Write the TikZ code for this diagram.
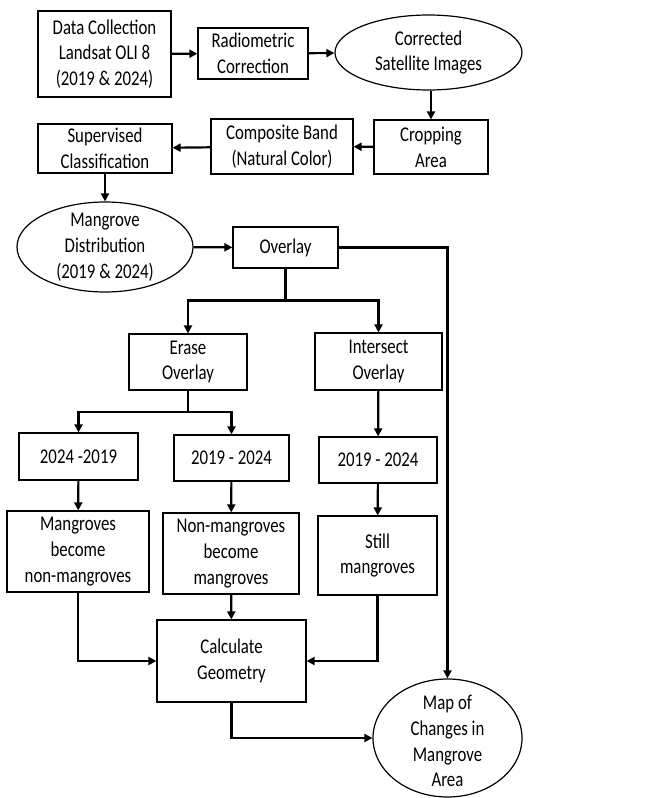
\documentclass[tikz,border=0pt]{standalone}
\usepackage{fontspec}
\setmainfont{Carlito}[FakeStretch=0.8]
\usetikzlibrary{shapes.geometric,arrows.meta}

\begin{document}
\begin{tikzpicture}[x=1pt, y=-1pt,
        box/.style={draw, line width=1.2pt, align=center, inner sep=0pt, font=\fontsize{21}{25.8}\selectfont},
        oval/.style={draw, ellipse, line width=1.2pt, inner sep=0pt},
        lbl/.style={align=center, inner sep=0pt, font=\fontsize{21}{25.8}\selectfont},
        trunk/.style={line width=2.2pt},
        conn/.style={line width=2.2pt, -{Triangle[length=8pt,width=8pt]}}]

        % Page
        \fill[white] (0,0) rectangle (657,798);

        % Preprocessing
        \node[box, minimum width=133pt, minimum height=86pt] (data) at (104.5,54) {Data Collection\\Landsat OLI 8\\(2019 \& 2024)};
        \node[box, minimum width=110pt, minimum height=51pt] (radio) at (253,53.5) {Radiometric\\Correction};
        \node[oval, minimum width=187pt, minimum height=75pt] (corr) at (428.5,52.5) {};
        \node[lbl] (corrtxt) at (corr) {Corrected\\Satellite Images};
        \node[box, minimum width=114pt, minimum height=54pt] (crop) at (431,147) {Cropping\\Area};
        \node[box, minimum width=142pt, minimum height=55pt] (comp) at (282,146.5) {Composite Band\\(Natural Color)};
        \node[box, minimum width=134pt, minimum height=49pt] (sup) at (105,148.5) {Supervised\\Classification};

        % Classification result
        \node[oval, minimum width=176pt, minimum height=90pt] (dist) at (105,247) {};
        \node[lbl] (disttxt) at (dist) {Mangrove\\Distribution\\(2019 \& 2024)};
        \node[box, minimum width=105pt, minimum height=41pt] (overlay) at (285.5,247.5) {Overlay};

        % Overlay branches
        \node[box, minimum width=118pt, minimum height=56pt] (erase) at (188,362) {Erase\\Overlay};
        \node[box, minimum width=127pt, minimum height=57pt] (inter) at (378.5,361.5) {Intersect\\Overlay};

        \node[box, minimum width=119pt, minimum height=47pt] (yrA) at (78.5,456.5) {2024 -2019};
        \node[box, minimum width=115pt, minimum height=46pt] (yrB) at (231.5,458) {2019 - 2024};
        \node[box, minimum width=118pt, minimum height=46pt] (yrC) at (378,460) {2019 - 2024};

        \node[box, minimum width=142pt, minimum height=81pt] (loss) at (78,551.5) {Mangroves\\become\\non-mangroves};
        \node[box, minimum width=136pt, minimum height=81pt] (gain) at (231,553.5) {Non-mangroves\\become\\mangroves};
        \node[box, minimum width=119pt, minimum height=79pt] (still) at (377.5,555.5) {Still\\mangroves};

        % Output
        \node[box, minimum width=149pt, minimum height=82pt] (calc) at (231.5,661) {Calculate\\Geometry};
        \node[oval, minimum width=149pt, minimum height=118pt] (map) at (447.5,738) {};
        \node[lbl] (maptxt) at (447.5,741) {Map of\\Changes in\\Mangrove\\Area};

        \coordinate (fork1) at (285.5,300.5);
        \coordinate (fork2) at (188,412);

        % Connectors
        \draw[conn] (data) -- (radio);
        \draw[conn] (radio) -- (corr);
        \draw[conn] (crop.north |- corr.south) -- (crop.north);
        \draw[conn] (crop) -- (comp);
        \draw[conn] (comp) -- (sup);
        \draw[conn] (sup) -- (dist);
        \draw[conn] (dist) -- (overlay);
        \draw[conn] (overlay.east) -| (map.north);

        \draw[trunk] (overlay.south) -- (fork1);
        \draw[conn] (fork1) -| (erase.north);
        \draw[conn] (fork1) -| (inter.north);

        \draw[trunk] (erase.south) -- (fork2);
        \draw[conn] (fork2) -| (yrA.north);
        \draw[conn] (fork2) -| (yrB.north);
        \draw[conn] (inter) -- (yrC);

        \draw[conn] (yrA) -- (loss);
        \draw[conn] (yrB) -- (gain);
        \draw[conn] (yrC) -- (still);

        \draw[conn] (loss.south) |- (calc.west);
        \draw[conn] (gain) -- (calc);
        \draw[conn] (still.south) |- (calc.east);
        \draw[conn] (calc.south) |- (map.west);
    \end{tikzpicture}
\end{document}
